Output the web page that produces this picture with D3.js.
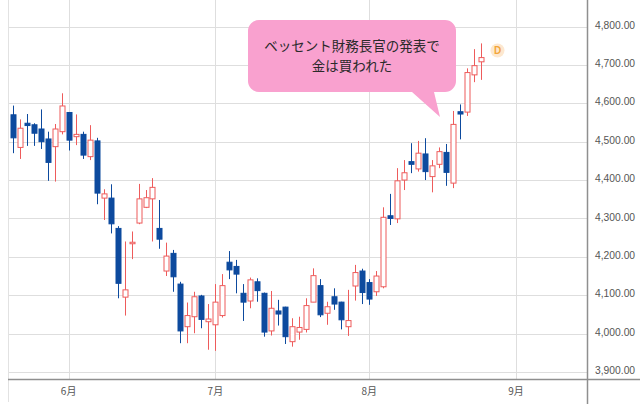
<!DOCTYPE html>
<html>
<head>
<meta charset="utf-8">
<script src="https://cdn.jsdelivr.net/npm/d3@7"></script>
<style>
  html, body { margin: 0; padding: 0; background: #fff; }
  svg { display: block; }
</style>
</head>
<body>
<svg id="chart" width="640" height="408"></svg>
<script>
// ---- data (trading-day candles) ----
const openP  = [4570,4485,4548,4544,4533,4507,4487,4526,4576,4513,4519,4461,4502,4353,4353,4274,4095,4236,4288,4329,
                4351,4274,4163,4209,4129,4018,4044,4098,4031,4023,4047,4186,4175,4105,4085,4135,4105,4007,4059,4069,
                3979,4004,4011,4082,4125,4053,4096,4082,4018,4124,4163,4133,4109,4122,4307,4299,4400,4448,4429,4468,
                4409,4441,4472,4392,4578,4577,4674,4708];
const highP  = [4594,4558,4572,4548,4584,4526,4546,4626,4577,4571,4526,4543,4510,4376,4389,4280,4240,4266,4390,4374,
                4405,4348,4237,4218,4135,4081,4109,4101,4077,4129,4155,4215,4192,4129,4146,4144,4107,4111,4088,4070,
                4040,4044,4092,4170,4142,4083,4118,4083,4114,4179,4169,4142,4163,4329,4364,4431,4452,4496,4502,4509,
                4452,4485,4494,4580,4597,4691,4741,4756];
const lowP   = [4470,4455,4489,4489,4481,4398,4396,4519,4477,4491,4455,4452,4337,4296,4261,4092,4047,4194,4285,4327,
                4240,4221,4150,4109,3975,3975,4001,4014,3958,3955,4042,4142,4105,4033,4066,4083,3992,3995,4021,3973,
                3966,3984,4003,4082,4043,4023,4062,4011,3994,4086,4077,4075,4098,4118,4283,4288,4374,4418,4422,4400,
                4368,4431,4385,4379,4506,4567,4655,4661];
const closeP = [4510,4535,4542,4522,4500,4446,4533,4593,4504,4519,4465,4504,4366,4364,4286,4131,4114,4238,4351,4354,
                4381,4246,4202,4148,4007,4047,4096,4037,4038,4082,4125,4166,4155,4082,4140,4112,4004,4066,4051,3992,
                4018,4016,4073,4151,4049,4070,4077,4036,4034,4159,4107,4090,4150,4303,4300,4398,4419,4441,4470,4422,
                4437,4474,4420,4545,4572,4680,4698,4719];

const yTicks = [3900,4000,4100,4200,4300,4400,4500,4600,4700,4800];
const monthLabels = ["6月","7月","8月","9月"];
const monthStartIndex = [8, 29, 51, 72];   // trading-day index of each month's first session

const noteLines = ["ベッセント財務長官の発表で", "金は買われた"];
const markerLabel = "D";

// ---- layout ----
const svg = d3.select("#chart");
const W = 640, H = 408;
const plotLeft = 8, plotRight = 587, axisY = 379;

const x = d3.scaleLinear().domain([0, 67]).range([12.7, 481]);
const y = d3.scaleLinear().domain([3900, 4800]).range([372, 26.5]);

const UP = "#ee5b5b", DOWN = "#0d4a9e";

svg.append("rect").attr("width", W).attr("height", H).attr("fill", "#fff");

// horizontal gridlines
svg.append("g").selectAll("line").data(yTicks).join("line")
  .attr("x1", plotLeft).attr("x2", plotRight)
  .attr("y1", d => Math.round(y(d)) + 0.5).attr("y2", d => Math.round(y(d)) + 0.5)
  .attr("stroke", "#dedede").attr("stroke-width", 1);

// vertical month gridlines
svg.append("g").selectAll("line").data(monthStartIndex).join("line")
  .attr("x1", d => Math.round(x(d)) + 0.5).attr("x2", d => Math.round(x(d)) + 0.5)
  .attr("y1", 0).attr("y2", axisY)
  .attr("stroke", "#dedede").attr("stroke-width", 1);

// left frame line
svg.append("line").attr("x1", plotLeft + 0.5).attr("x2", plotLeft + 0.5)
  .attr("y1", 0).attr("y2", 402).attr("stroke", "#e2e2e2");

// bottom axis line
svg.append("line").attr("x1", plotLeft).attr("x2", W)
  .attr("y1", axisY + 0.5).attr("y2", axisY + 0.5)
  .attr("stroke", "#8f8f8f").attr("stroke-width", 1.5);

// right axis line
svg.append("line").attr("x1", plotRight + 0.5).attr("x2", plotRight + 0.5)
  .attr("y1", 0).attr("y2", 404)
  .attr("stroke", "#8f8f8f").attr("stroke-width", 1.5);

// y labels
const fmt = d3.format(",.2f");
svg.append("g").selectAll("text").data(yTicks).join("text")
  .attr("x", 595).attr("y", d => y(d) - 0.5)
  .attr("dominant-baseline", "middle")
  .attr("font-family", "'Liberation Sans', Arial, sans-serif")
  .attr("font-size", 10.3).attr("fill", "#555")
  .text(d => fmt(d));

// x labels
svg.append("g").selectAll("text").data(monthStartIndex).join("text")
  .attr("x", d => x(d)).attr("y", 392)
  .attr("text-anchor", "middle")
  .attr("dominant-baseline", "middle")
  .attr("font-family", "'Noto Sans CJK JP', sans-serif")
  .attr("font-size", 10).attr("fill", "#555")
  .text((d, i) => monthLabels[i]);

// candles
const idx = d3.range(openP.length);
const bw = 5;
const g = svg.append("g");
g.selectAll("line.wick").data(idx).join("line")
  .attr("class", "wick")
  .attr("x1", i => Math.round(x(i)) + 0.5).attr("x2", i => Math.round(x(i)) + 0.5)
  .attr("y1", i => y(highP[i])).attr("y2", i => y(lowP[i]))
  .attr("stroke", i => closeP[i] >= openP[i] ? UP : DOWN)
  .attr("stroke-width", 1);
g.selectAll("rect.body").data(idx).join("rect")
  .attr("class", "body")
  .attr("x", i => Math.round(x(i)) + 0.5 - bw / 2)
  .attr("width", bw)
  .attr("y", i => y(Math.max(openP[i], closeP[i])))
  .attr("height", i => Math.max(1.5, Math.abs(y(openP[i]) - y(closeP[i]))))
  .attr("fill", i => closeP[i] >= openP[i] ? "#fff" : DOWN)
  .attr("stroke", i => closeP[i] >= openP[i] ? UP : DOWN)
  .attr("stroke-width", 1);

// "D" marker
const mk = svg.append("g").attr("transform", "translate(497.5,50.5)");
mk.append("circle").attr("r", 7).attr("fill", "#fde8cf");
mk.append("text").attr("text-anchor", "middle").attr("dominant-baseline", "central")
  .attr("font-family", "'Liberation Sans', Arial, sans-serif").attr("font-weight", "bold")
  .attr("font-size", 10).attr("fill", "#f2a53a").text(markerLabel);

// callout
const note = svg.append("g");
const bx = 248, by = 20, bwid = 208, bh = 72, r = 11;
const tailL = 412, tailR = 434, tipX = 440, tipY = 117;
const path = d3.path();
path.moveTo(bx + r, by);
path.lineTo(bx + bwid - r, by);
path.arcTo(bx + bwid, by, bx + bwid, by + r, r);
path.lineTo(bx + bwid, by + bh - r);
path.arcTo(bx + bwid, by + bh, bx + bwid - r, by + bh, r);
path.lineTo(tailR, by + bh);
path.lineTo(tipX, tipY);
path.lineTo(tailL, by + bh);
path.lineTo(bx + r, by + bh);
path.arcTo(bx, by + bh, bx, by + bh - r, r);
path.lineTo(bx, by + r);
path.arcTo(bx, by, bx + r, by, r);
path.closePath();
note.append("path").attr("d", path.toString()).attr("fill", "#f9a1cf");
note.selectAll("text").data(noteLines).join("text")
  .attr("x", bx + bwid / 2).attr("y", (d, i) => 45 + i * 20)
  .attr("text-anchor", "middle").attr("dominant-baseline", "central")
  .attr("font-family", "'Noto Sans CJK JP', sans-serif")
  .attr("font-size", 13.5).attr("fill", "#2a2a2a")
  .text(d => d);
</script>
</body>
</html>
